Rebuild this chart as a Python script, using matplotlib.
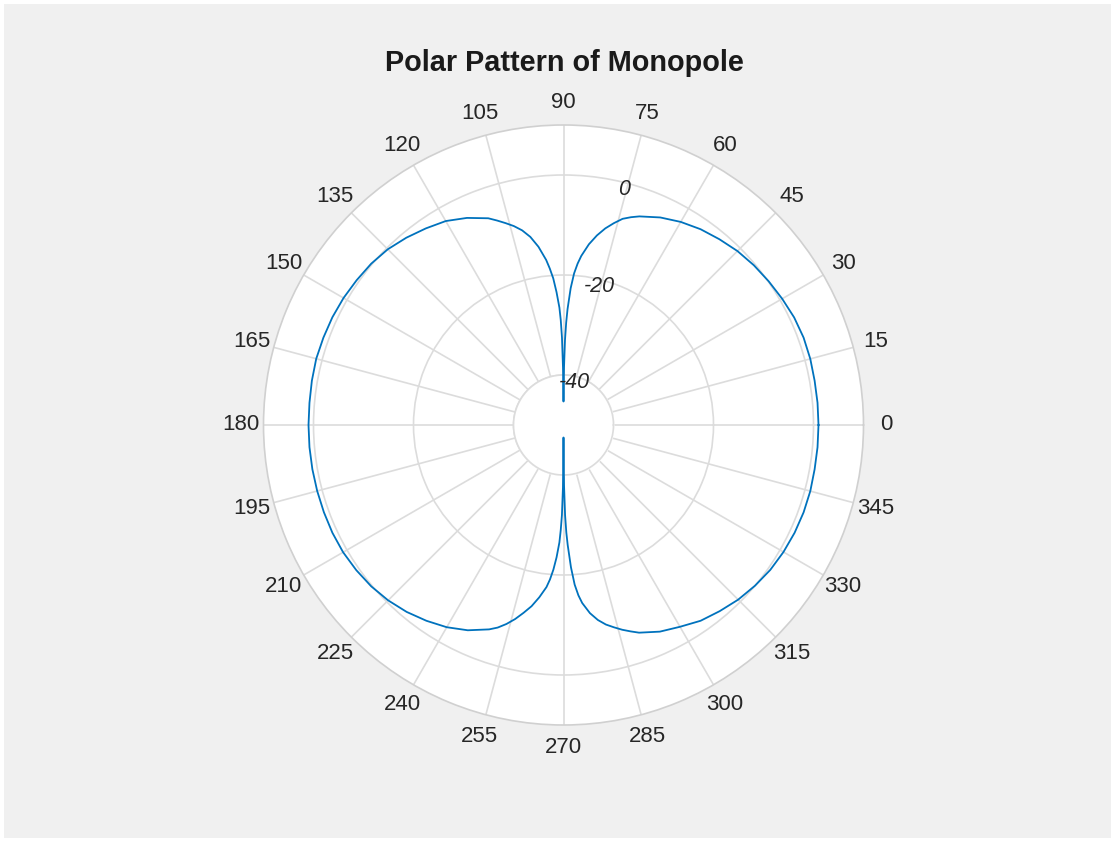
import numpy as np
import matplotlib
matplotlib.use("Agg")
import matplotlib.pyplot as plt
from matplotlib.patches import Rectangle

plt.rcParams["font.family"] = ["Liberation Sans", "DejaVu Sans"]

# angle (deg) and gain (dB)
angles = [0, 5, 10, 15, 20, 25, 30, 35, 40, 45, 50, 55, 60, 65, 70, 72, 74, 76,
          78, 80, 82, 84, 85, 86, 87, 88, 88.5, 89, 89.5, 90,
          90.5, 91, 91.5, 92, 93, 94, 95, 96, 98, 100, 102, 104, 106, 108, 110,
          115, 120, 125, 130, 135, 140, 145, 150, 155, 160, 165, 170, 175, 180,
          185, 190, 195, 200, 205, 210, 215, 220, 225, 230, 235, 240, 245, 250,
          252, 254, 256, 258, 260, 262, 264, 265, 266, 267, 268, 268.5, 269,
          269.5, 270,
          270.5, 271, 271.5, 272, 273, 274, 275, 276, 278, 280, 282, 284, 286,
          288, 290, 295, 300, 305, 310, 315, 320, 325, 330, 335, 340, 345, 350,
          355, 360]
gain_db = [1.0, 1.0, 1.0, 1.1, 1.1, 0.9, 0.5, 0.1, -0.3, -0.8, -1.5, -2.2, -3.1,
           -4.2, -5.6, -6.3, -7.1, -8.4, -9.8, -11.5, -13.5, -16.0, -17.6, -19.6,
           -22.6, -26.8, -29.5, -33.0, -38.5, -45.3,
           -38.5, -32.5, -29.0, -26.5, -23.4, -20.6, -18.6, -16.8, -14.0, -11.8,
           -10.2, -9.0, -8.0, -7.0, -6.0, -4.3, -2.9, -2.0, -1.1, -0.3, 0.2, 0.5,
           0.8, 1.0, 1.1, 1.2, 1.1, 1.0, 1.0,
           1.0, 1.0, 1.0, 1.0, 1.0, 0.9, 0.6, 0.2, -0.4, -1.2, -2.2, -3.3, -4.7,
           -6.5, -7.4, -8.6, -10.0, -11.6, -13.2, -15.2, -17.4, -19.0, -21.0,
           -23.5, -26.5, -29.0, -32.0, -37.5, -47.5,
           -38.0, -32.0, -28.5, -26.0, -21.5, -18.0, -15.8, -14.2, -12.0, -10.4,
           -9.2, -8.3, -7.4, -6.6, -5.8, -4.4, -3.4, -2.2, -1.4, -0.6, 0.0, 0.5,
           0.8, 1.0, 1.1, 1.1, 1.0, 1.0, 1.0]

r_ticks = [-40, -20, 0]
r_min, r_max = -50, 10
theta_ticks = list(range(0, 360, 15))

grid_col = "#dcdcdc"

fig = plt.figure(figsize=(11.14, 8.41), dpi=100, facecolor="white")
fig.patches.append(Rectangle((4 / 1114, 3 / 841), 1107 / 1114, 834 / 841,
                             transform=fig.transFigure, facecolor="#f0f0f0",
                             edgecolor="none", zorder=-5))

ax = fig.add_axes([263.5 / 1114, 116 / 841, 600 / 1114, 600 / 841], projection="polar")
ax.set_zorder(1)
ax.set_facecolor("white")
ax.set_axisbelow(True)

ax.set_rlim(r_min, r_max)
ax.set_rgrids(r_ticks)
ax.set_yticklabels([])
ax.set_thetagrids(theta_ticks, [str(t) for t in theta_ticks])
ax.grid(True, color=grid_col, linewidth=1.2)
ax.spines["polar"].set_color("#d0d0d0")
ax.spines["polar"].set_linewidth(1.2)
ax.tick_params(axis="x", labelsize=16, pad=6, colors="#262626")

# blank hole in the middle
ring = np.linspace(0, 2 * np.pi, 361)
ax.fill_between(ring, r_min, r_ticks[0], color="white", zorder=1)
ax.plot(ring, np.full_like(ring, r_ticks[0]), color=grid_col, linewidth=1.2, zorder=1.1)

# radial labels
for rv in r_ticks:
    ax.text(np.deg2rad(75.5), rv - 1.3, str(rv), ha="center", va="center",
            fontsize=15.5, style="italic", color="#262626", zorder=3)

ax.plot(np.deg2rad(angles), gain_db, color="#0072BD", linewidth=1.3, zorder=2)

fig.text(564 / 1114, 1 - 63 / 841, "Polar Pattern of Monopole", ha="center",
         va="center", fontsize=20.8, fontweight="bold", color="#1a1a1a")

fig.savefig("out.png", dpi=100, facecolor=fig.get_facecolor())
